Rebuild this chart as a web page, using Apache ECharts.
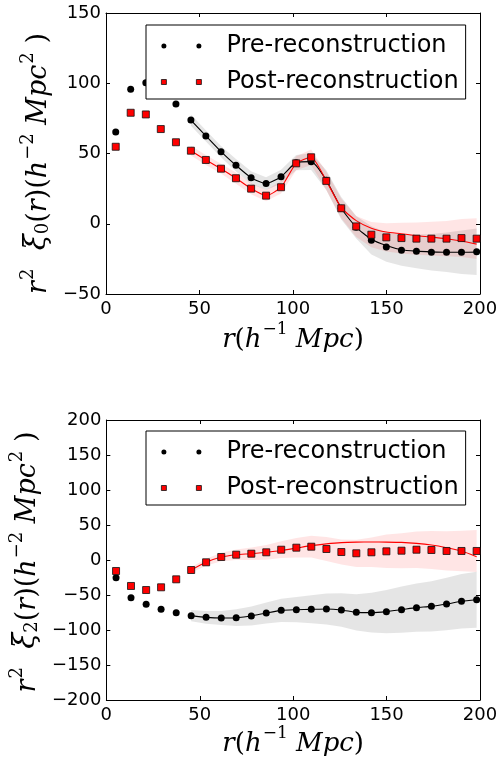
<!DOCTYPE html>
<html>
<head>
<meta charset="utf-8">
<script src="https://cdn.jsdelivr.net/npm/echarts@6/dist/echarts.min.js"></script>
<style>html,body{margin:0;padding:0;background:#fff}#c{width:503px;height:758px}</style>
</head>
<body>
<div id="c"></div>
<script>
// separation r (h^-1 Mpc)
const r = [5.2,13.2,21.3,29.3,37.4,45.4,53.4,61.5,69.5,77.6,85.6,93.6,101.7,109.7,117.8,125.8,133.8,141.9,149.9,158,166,174,182.1,190.1,198.2];
// monopole r^2 xi0
const xi0Pre  = [65.3,95.8,100.3,96,85.2,73.8,62.5,51.3,41.6,32.8,28.6,33.5,43.5,44.2,31,11,-2.5,-11.8,-16.5,-18.9,-19.6,-20.3,-20.3,-20.3,-19.9];
const xi0Post = [54.8,79,77.8,67.4,58,52,45.4,39.2,32.4,25,20,26,43,47.3,30.5,11,-1.9,-7.8,-9.7,-10.2,-10.6,-10.6,-10.6,-10.2,-10.6];
// fits (from r = 45 on)
const xi0PreFit  = [73.8,62.5,51.3,41.6,32.8,28.6,33.5,43.5,44.2,31,11,-2.5,-11,-15.5,-18.5,-19.5,-20,-20.3,-20.3,-20.2];
const xi0PostFit = [52,45.4,39.2,32.4,25,20,26,43,47.3,30.5,11.5,2.2,-3.2,-5.9,-7.1,-8.5,-9.5,-10.7,-12.3,-14.5];
// 1-sigma half widths (from r = 45 on)
const xi0PreErr  = [4,4,4,4.5,4.5,4.5,5,5.5,6,7,8,8,10,10.5,11,12,13,14,15.5,16.5];
const xi0PostErr = [3.5,3.5,3.5,4,4,4,4.5,5,5.5,6.5,7,7.5,9,10,11,11.5,12,12.5,13.5,14.5];
// quadrupole r^2 xi2
const xi2Pre  = [-25.3,-53.9,-63.3,-70.4,-75.3,-79.5,-81.9,-82.9,-82.4,-80,-75.7,-71.9,-71,-70.5,-70,-71.4,-74.8,-75.2,-73.8,-71,-68.1,-66.2,-62.9,-59,-56.7];
const xi2Post = [-15.7,-37.1,-42.9,-39,-27.6,-14.3,-3.3,4.3,7.6,9,11,14.7,17.6,19,15.7,11.4,9.6,11,12.4,13.3,14.7,14.3,12.9,12.9,12.9];
const xi2PreFit  = [-79.5,-81.9,-82.9,-82.4,-80,-75.7,-71.9,-71,-70.5,-70,-71.4,-74.8,-75.2,-73.8,-71,-68.1,-66.2,-62.9,-59,-56.7];
const xi2PostFit = [-14.3,-3.3,4.3,7.6,9,11,13.5,17,20.5,23,24.8,25.5,25.7,25.6,25.2,23.8,21.4,17.6,12.9,4.8];
const xi2PreErr  = [8,9,10,12,13.5,15,16.5,18,20,22,24,26,28.5,31,33,34.5,36,37.5,39,40];
const xi2PostErr = [4,5,6,7.5,9,10.5,12,14,15.5,17,18,19.5,21,24,25,26,27,28,29,30];
const names = ['Pre-reconstruction','Post-reconstruction'];
const rFit = r.slice(5);

const chart = echarts.init(document.getElementById('c'), null, {renderer:'canvas'});
const minus = v => String(v).replace('-', '\u2212');
const lineCol = '#000';
function mkRich(fs, ss) {
  return {
    i:{fontFamily:'DejaVu Serif', fontStyle:'italic', fontSize:fs, color:'#000', lineHeight:fs+6, verticalAlign:'bottom'},
    g:{fontFamily:'DejaVu Serif', fontStyle:'italic', fontSize:fs+2, color:'#000', lineHeight:fs+6, verticalAlign:'bottom'},
    n:{fontFamily:'DejaVu Serif', fontSize:fs, color:'#000', lineHeight:fs+6, verticalAlign:'bottom'},
    sup:{fontFamily:'DejaVu Serif', fontSize:ss, color:'#000', lineHeight:fs+6, verticalAlign:'top', padding:[0,0,0,1]},
    sub:{fontFamily:'DejaVu Serif', fontSize:ss, color:'#000', lineHeight:fs+1, verticalAlign:'bottom'}
  };
}
const richX = mkRich(26, 17);
const richY = mkRich(27, 18);
function xAx(grid, top, showName, gap) {
  return {
    type:'value', gridIndex:grid, position: top ? 'top':'bottom', min:0, max:200, interval:50,
    axisLine:{show:true, onZero:false, lineStyle:{color:lineCol, width:1}},
    axisTick:{show:true, inside:true, length:4, lineStyle:{color:lineCol}},
    axisLabel:{show:!top, color:'#000', fontSize:18, fontFamily:'DejaVu Sans', margin:6, formatter:minus},
    splitLine:{show:false},
    name: showName ? '{i|r}{n|(}{i|h}{sup|\u22121}{i| Mpc}{n|)}' : '',
    nameLocation:'middle', nameGap:gap,
    nameTextStyle:{verticalAlign:'middle', align:'center', rich:richX}
  };
}
function yAx(grid, right, min, max, nameStr, pad) {
  return {
    type:'value', gridIndex:grid, position: right ? 'right':'left', min:min, max:max, interval:50,
    axisLine:{show:true, onZero:false, lineStyle:{color:lineCol, width:1}},
    axisTick:{show:true, inside:true, length:4, lineStyle:{color:lineCol}},
    axisLabel:{show:!right, color:'#000', fontSize:18, fontFamily:'DejaVu Sans', margin:5, formatter:minus},
    splitLine:{show:false},
    name: right ? '' : nameStr, nameLocation:'middle', nameGap:68, nameRotate:90,
    nameTextStyle:{verticalAlign:'middle', align:'center', rich:richY, padding:pad || 0}
  };
}
function band(gi, lo, hi, color) {
  const data = rFit.map((x,i)=>[x, lo[i], hi[i]]);
  return {
    type:'custom', xAxisIndex:gi*2, yAxisIndex:gi*2, silent:true, z:1, clip:true,
    data:data,
    renderItem:function(params, api){
      if (params.dataIndex !== 0) return null;
      const pts = [];
      for (let i=0;i<data.length;i++) pts.push(api.coord([data[i][0], data[i][2]]));
      for (let i=data.length-1;i>=0;i--) pts.push(api.coord([data[i][0], data[i][1]]));
      return {type:'polygon', shape:{points:pts}, style:{fill:color}};
    }
  };
}
function series(gi, pre, post, preFit, postFit, preErr, postErr) {
  return [
    band(gi, preFit.map((v,i)=>pre[i+5]-preErr[i]), preFit.map((v,i)=>pre[i+5]+preErr[i]), 'rgba(0,0,0,0.1)'),
    band(gi, postFit.map((v,i)=>post[i+5]-postErr[i]), postFit.map((v,i)=>post[i+5]+postErr[i]), 'rgba(255,0,0,0.1)'),
    {type:'line', name:'preFit'+gi, xAxisIndex:gi*2, yAxisIndex:gi*2, data:rFit.map((x,i)=>[x,preFit[i]]), showSymbol:false, smooth:0.2, lineStyle:{color:'#000', width:1.1}, z:2, silent:true},
    {type:'line', name:'postFit'+gi, xAxisIndex:gi*2, yAxisIndex:gi*2, data:rFit.map((x,i)=>[x,postFit[i]]), showSymbol:false, smooth:0.2, lineStyle:{color:'#f00', width:1.1}, z:3, silent:true},
    {type:'scatter', name:names[0], xAxisIndex:gi*2, yAxisIndex:gi*2, data:r.map((x,i)=>[x,pre[i]]), symbol:'circle', symbolSize:7, itemStyle:{color:'#000', opacity:1}, z:4},
    {type:'scatter', name:names[1], xAxisIndex:gi*2, yAxisIndex:gi*2, data:r.map((x,i)=>[x,post[i]]), symbol:'rect', symbolSize:7, itemStyle:{color:'#f00', borderColor:'#111', borderWidth:0.8, opacity:1}, z:5}
  ];
}
function legend(top) {
  return {
    left:146, top:top, orient:'vertical', itemWidth:40, itemHeight:5, itemGap:12, z:20,
    padding:[9,7,5,15], borderColor:'#000', borderWidth:1, backgroundColor:'#fff', borderRadius:0,
    textStyle:{fontSize:24, fontFamily:'DejaVu Sans', color:'#000', padding:[0,0,0,20], lineHeight:24},
    data:[
      {name:names[0], icon:'path://M0,2.5a2.5,2.5 0 1,0 5,0a2.5,2.5 0 1,0 -5,0zM35,2.5a2.5,2.5 0 1,0 5,0a2.5,2.5 0 1,0 -5,0z', itemStyle:{color:'#000', borderWidth:0, opacity:1}},
      {name:names[1], icon:'path://M0,0h5v5h-5zM35,0h5v5h-5z', itemStyle:{color:'#f00', borderColor:'#111', borderWidth:0.8, opacity:1}}
    ],
    selectedMode:false
  };
}
const yName0 = '{i|r}{sup|2}{g|  \u03be}{sub|0}{n|(}{i|r}{n|)(}{i|h}{sup|\u22122}{i| Mpc}{sup|2}{n| )}';
const yName2 = '{i|r}{sup|2}{g|  \u03be}{sub|2}{n|(}{i|r}{n|)(}{i|h}{sup|\u22122}{i| Mpc}{sup|2}{n| )}';
chart.setOption({
  animation:false,
  backgroundColor:'#fff',
  grid:[{left:106, top:13, width:374, height:281}, {left:106, top:420, width:374, height:280}],
  xAxis:[xAx(0,false,true,43), xAx(0,true,false,0), xAx(1,false,true,38), xAx(1,true,false,0)],
  yAxis:[yAx(0,false,-50,150,yName0,[0,20,0,0]), yAx(0,true,-50,150,''), yAx(1,false,-200,200,yName2,[0,4,0,0]), yAx(1,true,-200,200,'')],
  legend:[legend(25), legend(431)],
  series:[].concat(series(0, xi0Pre, xi0Post, xi0PreFit, xi0PostFit, xi0PreErr, xi0PostErr),
                   series(1, xi2Pre, xi2Post, xi2PreFit, xi2PostFit, xi2PreErr, xi2PostErr))
});
</script>
</body>
</html>
